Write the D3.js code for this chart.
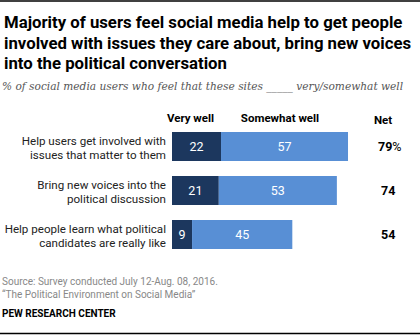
<!DOCTYPE html>
<html>
<head>
<meta charset="utf-8">
<script src="https://cdn.jsdelivr.net/npm/d3@7"></script>
<style>
    body { margin: 0; background: #fff; }
    svg { display: block; }
    .title { font-family: Roboto, "Liberation Sans", sans-serif; font-weight: 700; font-size: 16.75px; fill: #000; }
    .subtitle { font-family: "DejaVu Serif", Georgia, serif; font-style: italic; font-size: 10.6px; fill: #555; }
    .cat { font-family: Roboto, "Liberation Sans", sans-serif; font-size: 11.6px; fill: #222; }
    .head { font-family: Roboto, "Liberation Sans", sans-serif; font-weight: 700; font-size: 11.5px; fill: #000; }
    .val { font-family: Roboto, "Liberation Sans", sans-serif; font-size: 12.5px; fill: #fff; }
    .net { font-family: Roboto, "Liberation Sans", sans-serif; font-weight: 700; font-size: 12.5px; fill: #000; }
    .note { font-family: Roboto, "Liberation Sans", sans-serif; font-size: 10px; fill: #888; }
    .brand { font-family: Roboto, "Liberation Sans", sans-serif; font-weight: 700; font-size: 10px; fill: #000; }
</style>
</head>
<body>
<svg id="chart" width="420" height="336"></svg>
<script>
"use strict";

const width = 420;
const height = 336;

const categories = [
    ["Help users get involved with", "issues that matter to them"],
    ["Bring new voices into the", "political discussion"],
    ["Help people learn what political", "candidates are really like"]
];
const veryWell = [22, 21, 9];
const somewhatWell = [57, 53, 45];
const net = [79, 74, 54];
const headers = ["Very well", "Somewhat well", "Net"];

const titleLines = [
    "Majority of users feel social media help to get people",
    "involved with issues they care about, bring new voices",
    "into the political conversation"
];
const subtitle = "% of social media users who feel that these sites _____ very/somewhat well";
const notes = [
    "Source: Survey conducted July 12-Aug. 08, 2016.",
    "\u201cThe Political Environment on Social Media\u201d"
];
const brand = "PEW RESEARCH CENTER";

const colors = { very: "#1c375e", somewhat: "#588fd5" };

const svg = d3.select("#chart");

// rules at top and bottom
svg.append("line").attr("x1", 0).attr("x2", width).attr("y1", 1).attr("y2", 1)
    .attr("stroke", "#000").attr("stroke-width", 1.5);
svg.append("line").attr("x1", 0).attr("x2", width).attr("y1", 333.5).attr("y2", 333.5)
    .attr("stroke", "#000").attr("stroke-width", 1.5);

svg.selectAll("text.title")
    .data(titleLines)
    .enter().append("text")
    .attr("class", "title")
    .attr("x", 4)
    .attr("y", (d, i) => 28 + i * 20.5)
    .text(d => d);

svg.append("text").attr("class", "subtitle")
    .attr("x", 2).attr("y", 90).text(subtitle);

// 100% spans ~223px starting at x=172
const x = d3.scaleLinear().domain([0, 100]).range([172, 172 + 222.8]);
const y = d3.scaleBand()
    .domain(d3.range(categories.length))
    .range([132, 249])
    .paddingInner(15 / 44)
    .paddingOuter(0);

const rows = svg.append("g").selectAll("g.row")
    .data(categories.map((c, i) => ({ label: c, very: veryWell[i], some: somewhatWell[i], net: net[i], i: i })))
    .enter().append("g")
    .attr("class", "row");

rows.append("rect")
    .attr("x", x(0))
    .attr("y", d => y(d.i))
    .attr("width", d => x(d.very) - x(0))
    .attr("height", y.bandwidth())
    .attr("fill", colors.very);

rows.append("rect")
    .attr("x", d => x(d.very))
    .attr("y", d => y(d.i))
    .attr("width", d => x(d.very + d.some) - x(d.very))
    .attr("height", y.bandwidth())
    .attr("fill", colors.somewhat);

rows.append("text").attr("class", "val")
    .attr("x", d => (x(0) + x(d.very)) / 2)
    .attr("y", d => y(d.i) + y.bandwidth() / 2 + 4.5)
    .attr("text-anchor", "middle")
    .text(d => d.very);

rows.append("text").attr("class", "val")
    .attr("x", d => (x(d.very) + x(d.very + d.some)) / 2)
    .attr("y", d => y(d.i) + y.bandwidth() / 2 + 4.5)
    .attr("text-anchor", "middle")
    .text(d => d.some);

rows.append("text").attr("class", "cat")
    .attr("text-anchor", "end")
    .selectAll("tspan")
    .data(d => d.label.map(t => ({ t: t, i: d.i })))
    .enter().append("tspan")
    .attr("x", 166)
    .attr("y", (d, k) => y(d.i) + 12.8 + k * 13.8)
    .text(d => d.t);

const netText = rows.append("text").attr("class", "net")
    .attr("x", 378)
    .attr("y", d => y(d.i) + y.bandwidth() / 2 + 4.5);
netText.append("tspan").text(d => d.net);
netText.filter(d => d.i === 0).append("tspan")
    .attr("font-weight", 400).text("%");
netText.filter(d => d.i !== 0).attr("x", 381);

// column headers
const headX = [190.5, 280, 383];
svg.selectAll("text.head")
    .data(headers)
    .enter().append("text")
    .attr("class", "head")
    .attr("text-anchor", "middle")
    .attr("x", (d, i) => headX[i])
    .attr("y", (d, i) => i === 2 ? 123.5 : 121.5)
    .text(d => d);

svg.selectAll("text.note")
    .data(notes)
    .enter().append("text")
    .attr("class", "note")
    .attr("x", 2)
    .attr("y", (d, i) => 284.5 + i * 13)
    .text(d => d);

svg.append("text").attr("class", "brand")
    .attr("x", 2).attr("y", 317).text(brand);
</script>
</body>
</html>
